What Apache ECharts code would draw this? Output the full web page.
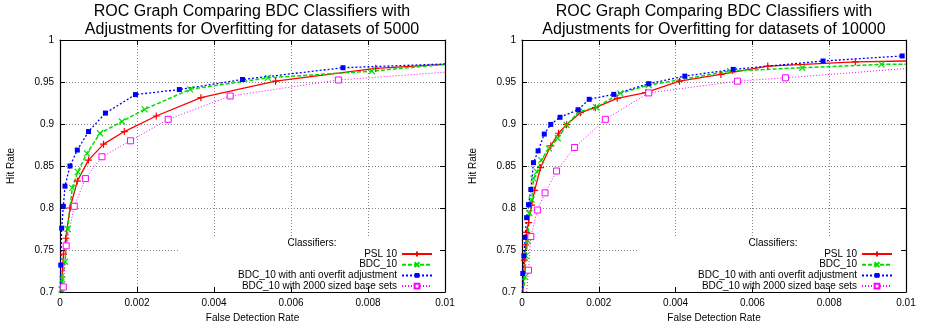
<!DOCTYPE html>
<html>
<head>
<meta charset="utf-8">
<script src="https://cdn.jsdelivr.net/npm/echarts@6/dist/echarts.min.js"></script>
<style>
  html, body { margin: 0; padding: 0; background: #fff; }
  #chart { width: 925px; height: 330px; }
</style>
</head>
<body>
<div id="chart"></div>
<script>
// series names (legend order)
const seriesNames = [
  'PSL 10',
  'BDC_10',
  'BDC_10 with anti overfit adjustment',
  'BDC_10 with 2000 sized base sets'
];

// [false detection rate, hit rate] (datasets of 5000)
const psl5000 = [[0.00003,0.700],[0.00009,0.745],[0.00015,0.764],[0.00026,0.800],[0.00045,0.832],[0.00074,0.857],[0.00113,0.876],[0.00167,0.891],[0.0025,0.9095],[0.00366,0.9313],[0.0056,0.951],[0.0082,0.9663],[0.01,0.971]];
const bdc5000 = [[0.00004,0.703],[0.00006,0.715],[0.00013,0.736],[0.0002,0.775],[0.00032,0.824],[0.00046,0.843],[0.0007,0.865],[0.00104,0.889],[0.00161,0.903],[0.0022,0.9175],[0.00338,0.9413],[0.0054,0.955],[0.0081,0.963],[0.01,0.971]];
const anti5000 = [[0.00001,0.700],[0.00002,0.732],[0.000044,0.776],[0.000087,0.802],[0.00013,0.826],[0.00026,0.850],[0.00045,0.869],[0.00074,0.891],[0.00118,0.913],[0.00196,0.935],[0.0031,0.941],[0.00474,0.953],[0.00735,0.967],[0.01,0.9715]];
const base5000 = [[0.00007,0.700],[0.000087,0.706],[0.00016,0.755],[0.00037,0.802],[0.00066,0.835],[0.00109,0.861],[0.00183,0.880],[0.00281,0.9056],[0.00442,0.9333],[0.00723,0.9524],[0.01,0.9616]];

// right plot (datasets of 10000)
const psl10000 = [[0.00003,0.700],[0.00006,0.738],[0.0001,0.756],[0.00012,0.771],[0.00017,0.7825],[0.00025,0.8035],[0.00033,0.821],[0.00048,0.848],[0.00075,0.874],[0.00095,0.889],[0.00116,0.8992],[0.00152,0.9135],[0.00191,0.9194],[0.00248,0.9306],[0.00322,0.9373],[0.0041,0.951],[0.00518,0.959],[0.0064,0.969],[0.00868,0.974],[0.01,0.975]];
const bdc10000 = [[0.00003,0.700],[0.00008,0.718],[0.0001,0.743],[0.00015,0.761],[0.00019,0.794],[0.00025,0.810],[0.0003,0.835],[0.00039,0.843],[0.0005,0.857],[0.0007,0.871],[0.00093,0.883],[0.00116,0.8988],[0.00148,0.9146],[0.00193,0.9198],[0.00256,0.9365],[0.0033,0.9464],[0.00542,0.963],[0.0073,0.967],[0.00936,0.971],[0.01,0.971]];
const anti10000 = [[0.00001,0.700],[0.00002,0.722],[0.00005,0.743],[0.00008,0.765],[0.00012,0.7885],[0.00017,0.804],[0.00023,0.822],[0.0003,0.854],[0.00042,0.868],[0.00058,0.888],[0.00075,0.8995],[0.00099,0.908],[0.00146,0.917],[0.00175,0.9294],[0.00239,0.9353],[0.0033,0.948],[0.00424,0.957],[0.0055,0.965],[0.00784,0.975],[0.0099,0.981]];
const base10000 = [[0.00012,0.700],[0.00017,0.726],[0.00023,0.766],[0.0004,0.7976],[0.0006,0.818],[0.0009,0.844],[0.00137,0.872],[0.00217,0.9056],[0.0033,0.937],[0.00561,0.951],[0.00686,0.955],[0.01,0.966]];

const xMin = 0, xMax = 0.01, xStep = 0.002;
const yMin = 0.7, yMax = 1, yStep = 0.05;

const font = '"Liberation Sans", Arial, Helvetica, sans-serif';
const plusPath = 'path://M5,0V10M0,5H10';
const crossPath = 'path://M0,0L10,10M10,0L0,10';

// gnuplot-ish styles per classifier
const styles = [
  { color: '#ff0000', type: 'solid', width: 1.3, symbol: plusPath, size: 7, fill: '#ff0000', border: 1.2 },
  { color: '#00dd00', type: [4, 2], width: 1.5, symbol: crossPath, size: 6, fill: '#00dd00', border: 1.2 },
  { color: '#0000ff', type: [2, 2], width: 1.3, symbol: 'rect', size: 5, fill: '#0000ff', border: 0 },
  { color: '#ff00ff', type: [1, 2], width: 1, symbol: 'rect', size: 6, fill: '#ffffff', border: 1 }
];

// hide the marker where a curve meets the frame
function toData(points) {
  return points.map(p => (p[0] >= xMax || p[1] <= yMin)
    ? { value: p, symbol: 'none' } : p);
}

function makeSeries(idx, data, gridIdx) {
  const s = styles[idx];
  return {
    name: seriesNames[idx],
    type: 'line',
    xAxisIndex: gridIdx * 2,
    yAxisIndex: gridIdx * 2,
    data: toData(data),
    symbol: s.symbol,
    symbolSize: s.size,
    showAllSymbol: true,
    clip: true,
    lineStyle: { color: s.color, type: s.type, width: s.width },
    itemStyle: { color: s.fill, borderColor: s.color, borderWidth: s.border },
    emphasis: { disabled: true }
  };
}

function xAxes(gridIdx) {
  const base = {
    gridIndex: gridIdx, type: 'value', min: xMin, max: xMax, interval: xStep,
    axisLine: { onZero: false, lineStyle: { color: '#000', width: 1.2 } },
    axisTick: { inside: true, length: 5, lineStyle: { color: '#000' } }
  };
  return [
    Object.assign({}, base, {
      position: 'bottom',
      name: 'False Detection Rate', nameLocation: 'middle', nameGap: 20,
      nameTextStyle: { fontSize: 10, color: '#000', fontFamily: font },
      axisLabel: { fontSize: 10, color: '#000', margin: 6, fontFamily: font },
      splitLine: { show: true, lineStyle: { color: '#888', type: [1, 2], width: 1 } }
    }),
    Object.assign({}, base, {
      position: 'top', axisLabel: { show: false }, splitLine: { show: false }
    })
  ];
}

function yAxes(gridIdx) {
  const base = {
    gridIndex: gridIdx, type: 'value', min: yMin, max: yMax, interval: yStep,
    axisLine: { onZero: false, lineStyle: { color: '#000', width: 1.2 } },
    axisTick: { inside: true, length: 5, lineStyle: { color: '#000' } }
  };
  return [
    Object.assign({}, base, {
      position: 'left',
      name: 'Hit Rate', nameLocation: 'middle', nameGap: 44,
      nameTextStyle: { fontSize: 10, color: '#000', fontFamily: font },
      axisLabel: { fontSize: 10, color: '#000', margin: 6, fontFamily: font },
      splitLine: { show: true, lineStyle: { color: '#888', type: [1, 2], width: 1 } }
    }),
    Object.assign({}, base, {
      position: 'right', axisLabel: { show: false }, splitLine: { show: false }
    })
  ];
}

function legend(right) {
  return {
    data: seriesNames,
    orient: 'vertical',
    align: 'right',
    right: right,
    top: 249,
    padding: 0,
    itemWidth: 30,
    itemHeight: 6,
    itemGap: 0.7,
    selectedMode: false,
    textStyle: { fontSize: 10, color: '#000', lineHeight: 10, fontFamily: font }
  };
}

function titleText(x, size) {
  return {
    type: 'text', x: x, y: 3, z: 10,
    style: {
      text: 'ROC Graph Comparing BDC Classifiers with\nAdjustments for Overfitting for datasets of ' + size,
      fill: '#000', fontSize: 16, lineHeight: 18, fontFamily: font,
      align: 'center', verticalAlign: 'top', textAlign: 'center', textVerticalAlign: 'top'
    }
  };
}

function keyTitle(x) {
  return {
    type: 'text', x: x, y: 243, z: 10,
    style: {
      text: 'Classifiers:', fill: '#000', fontSize: 10, fontFamily: font,
      align: 'center', verticalAlign: 'middle', textAlign: 'center', textVerticalAlign: 'middle'
    }
  };
}

const chart = echarts.init(document.getElementById('chart'), null, { renderer: 'canvas' });
chart.setOption({
  animation: false,
  backgroundColor: '#fff',
  textStyle: { fontFamily: font },
  grid: [
    { left: 60, top: 40, width: 385, height: 252 },
    { left: 522, top: 40, width: 384, height: 252 }
  ],
  xAxis: xAxes(0).concat(xAxes(1)),
  yAxis: yAxes(0).concat(yAxes(1)),
  legend: [legend(492), legend(32)],
  graphic: [
    // the key box hides the grid lines behind it (ticks stay visible)
    { type: 'rect', z: 1, silent: true, shape: { x: 178, y: 237, width: 261, height: 50 }, style: { fill: '#fff' } },
    { type: 'rect', z: 1, silent: true, shape: { x: 639, y: 237, width: 262, height: 50 }, style: { fill: '#fff' } },
    titleText(252, '5000'),
    titleText(714, '10000'),
    keyTitle(312),
    keyTitle(773)
  ],
  series: [
    makeSeries(0, psl5000, 0),
    makeSeries(1, bdc5000, 0),
    makeSeries(2, anti5000, 0),
    makeSeries(3, base5000, 0),
    makeSeries(0, psl10000, 1),
    makeSeries(1, bdc10000, 1),
    makeSeries(2, anti10000, 1),
    makeSeries(3, base10000, 1)
  ]
});
</script>
</body>
</html>
